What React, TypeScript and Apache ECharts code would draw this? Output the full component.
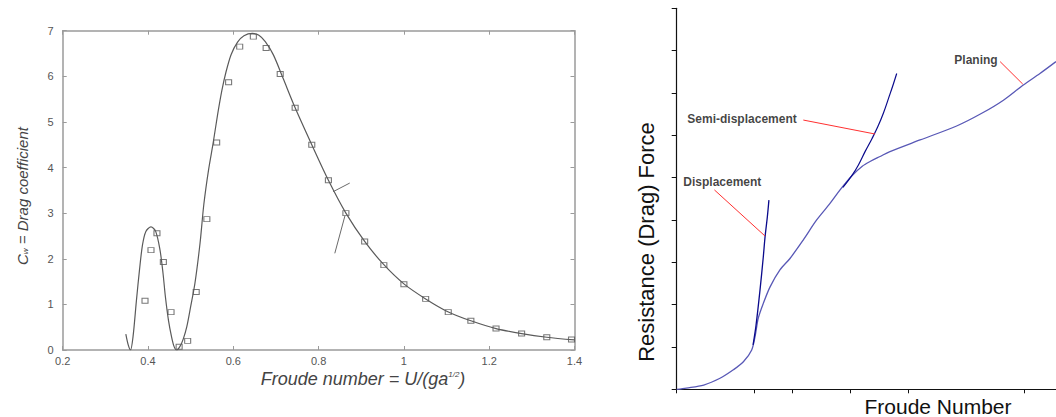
import React, { useEffect, useRef } from "react";
import * as echarts from "echarts";

// ---------- Left panel: wave drag coefficient vs Froude number ----------
const dragCurve: number[][] = [
  [0.348, 0.35], [0.354, 0.1], [0.359, 0.0], [0.365, 0.3], [0.373, 1.1], [0.38, 1.75],
  [0.387, 2.3], [0.395, 2.6], [0.407, 2.7], [0.418, 2.6], [0.428, 2.2], [0.435, 1.7],
  [0.441, 1.15], [0.448, 0.65], [0.455, 0.3], [0.461, 0.08], [0.467, 0.0], [0.475, 0.08],
  [0.483, 0.25], [0.491, 0.51], [0.5, 0.95], [0.51, 1.46], [0.522, 2.34], [0.531, 3.2],
  [0.542, 3.95], [0.553, 4.55], [0.563, 5.15], [0.573, 5.68], [0.583, 6.1], [0.595, 6.48],
  [0.61, 6.75], [0.625, 6.89], [0.645, 6.94], [0.66, 6.9], [0.675, 6.76], [0.694, 6.47],
  [0.717, 5.95], [0.745, 5.31], [0.784, 4.5], [0.823, 3.72], [0.864, 3.0], [0.908, 2.38],
  [0.953, 1.87], [1.0, 1.45], [1.051, 1.12], [1.103, 0.84], [1.157, 0.64], [1.216, 0.47],
  [1.276, 0.36], [1.335, 0.28], [1.4, 0.22],
];

const dragPoints: number[][] = [
  [0.393, 1.08], [0.407, 2.19], [0.421, 2.56], [0.436, 1.93], [0.454, 0.83], [0.473, 0.07],
  [0.493, 0.2], [0.513, 1.27], [0.538, 2.87], [0.561, 4.55], [0.589, 5.87], [0.615, 6.65],
  [0.647, 6.87], [0.677, 6.62], [0.71, 6.05], [0.745, 5.31], [0.784, 4.5], [0.823, 3.72],
  [0.864, 3.0], [0.908, 2.38], [0.953, 1.86], [1.0, 1.44], [1.051, 1.12], [1.104, 0.83],
  [1.157, 0.64], [1.216, 0.47], [1.276, 0.36], [1.335, 0.28], [1.393, 0.23],
];

const branchUpper: number[][] = [[0.834, 3.47], [0.873, 3.66]];
const branchLower: number[][] = [[0.838, 2.12], [0.862, 2.95]];

// ---------- Right panel: resistance vs Froude number (schematic) ----------
const resistanceMain: number[][] = [
  [0, 0], [0.5, 0.03], [1.4, 0.1], [2.24, 0.26], [2.93, 0.46], [3.45, 0.65], [3.88, 0.93],
  [4.05, 1.24], [4.22, 1.68], [4.48, 2.03], [4.83, 2.42], [5.34, 2.82], [5.86, 3.09],
  [6.55, 3.53], [7.24, 4.0], [7.93, 4.39], [8.45, 4.71], [9.05, 5.04], [9.6, 5.27],
  [10.0, 5.38], [10.52, 5.5], [11.0, 5.61], [12.59, 5.89], [14.48, 6.22], [15.78, 6.52],
  [16.9, 6.83], [17.93, 7.19], [18.79, 7.46], [19.62, 7.74],
];
const resistanceDisplacement: number[][] = [
  [3.95, 1.05], [4.1, 1.5], [4.31, 2.35], [4.48, 3.13], [4.57, 3.6], [4.69, 4.08], [4.77, 4.47],
];
const resistanceSemi: number[][] = [
  [8.6, 4.77], [9.05, 5.04], [9.4, 5.3], [9.75, 5.62], [10.1, 5.92], [10.4, 6.2],
  [10.69, 6.52], [11.0, 6.93], [11.2, 7.2], [11.38, 7.46],
];
const regimeNames: string[] = ["Displacement", "Semi-displacement", "Planing"];
const regimeLabelAt: number[][] = [[2.36, 4.9], [3.38, 6.38], [15.48, 7.78]];
const regimeLeaders: number[][][] = [
  [[1.95, 4.71], [4.57, 3.62]],
  [[6.55, 6.36], [10.26, 6.03]],
  [[16.73, 7.74], [17.9, 7.21]],
];
const rightXTicks: number[] = [0, 4, 6, 9, 12, 18];

const FONT = "'Liberation Sans', Arial, Helvetica, sans-serif";

export default function App() {
  const ref = useRef<HTMLDivElement>(null);

  useEffect(() => {
    if (!ref.current) return;
    const chart = echarts.init(ref.current, undefined, { renderer: "svg" });

    const axisGray = "#9a9a9a";
    const leftAxisCommon = {
      axisLine: { show: true, onZero: false, lineStyle: { color: axisGray, width: 1.5 } },
      axisTick: { show: true, inside: true, length: 4, lineStyle: { color: axisGray } },
      splitLine: { show: false },
    };

    const option: any = {
      animation: false,
      backgroundColor: "#ffffff",
      textStyle: { fontFamily: FONT },
      grid: [
        { left: 62.7, top: 30.7, width: 511.8, height: 319.3 },
        { left: 676.7, top: 8.3, width: 379.3, height: 381 },
      ],
      xAxis: [
        {
          gridIndex: 0, type: "value", position: "bottom", min: 0.2, max: 1.4, interval: 0.2,
          ...leftAxisCommon,
          axisLabel: { color: "#555", fontSize: 11, margin: 5, fontFamily: FONT },
        },
        {
          gridIndex: 0, type: "value", position: "top", min: 0.2, max: 1.4, interval: 0.2,
          ...leftAxisCommon,
          axisLabel: { show: false },
        },
        {
          gridIndex: 1, type: "value", position: "bottom", min: 0, max: 19.62,
          axisLine: { show: true, onZero: false, lineStyle: { color: "#111", width: 1.2 } },
          axisTick: { show: true, inside: false, length: 4, customValues: rightXTicks, lineStyle: { color: "#111" } },
          axisLabel: { show: false, customValues: rightXTicks },
          splitLine: { show: false },
        },
      ],
      yAxis: [
        {
          gridIndex: 0, type: "value", position: "left", min: 0, max: 7, interval: 1,
          ...leftAxisCommon,
          axisLabel: { color: "#555", fontSize: 11, margin: 9, fontFamily: FONT },
        },
        {
          gridIndex: 0, type: "value", position: "right", min: 0, max: 7, interval: 1,
          ...leftAxisCommon,
          axisLabel: { show: false },
        },
        {
          gridIndex: 1, type: "value", position: "left", min: 0, max: 9, interval: 1,
          axisLine: { show: true, onZero: false, lineStyle: { color: "#111", width: 1.2 } },
          axisTick: { show: true, inside: false, length: 5, lineStyle: { color: "#111" } },
          axisLabel: { show: false },
          splitLine: { show: false },
        },
      ],
      graphic: [
        {
          type: "text", x: 22, y: 196, rotation: Math.PI / 2,
          style: {
            text: "{m|C}{s|w}{m| = Drag coefficient}",
            align: "center", verticalAlign: "middle", fill: "#444",
            rich: {
              m: { fontSize: 15, fontStyle: "italic", fontFamily: FONT, fill: "#444" },
              s: { fontSize: 8, fontStyle: "italic", fontFamily: FONT, fill: "#444", verticalAlign: "bottom" },
            },
          },
        },
        {
          type: "text", x: 363, y: 379,
          style: {
            text: "{m|Froude number = U/(ga}{s|1/2}{m|)}",
            align: "center", verticalAlign: "middle", fill: "#444",
            rich: {
              m: { fontSize: 18, fontStyle: "italic", fontFamily: FONT, fill: "#444" },
              s: { fontSize: 8, fontStyle: "italic", fontFamily: FONT, fill: "#444", verticalAlign: "top" },
            },
          },
        },
        {
          type: "text", x: 646, y: 242, rotation: Math.PI / 2,
          style: {
            text: "Resistance (Drag) Force", align: "center", verticalAlign: "middle",
            fontSize: 22, fontFamily: FONT, fill: "#111",
          },
        },
        {
          type: "text", x: 938, y: 406,
          style: {
            text: "Froude Number", align: "center", verticalAlign: "middle",
            fontSize: 21, fontFamily: FONT, fill: "#111",
          },
        },
      ],
      series: [
        {
          type: "line", xAxisIndex: 0, yAxisIndex: 0, data: dragCurve, smooth: 0.3,
          showSymbol: false, lineStyle: { color: "#5a5a5a", width: 1.2 },
        },
        {
          type: "line", xAxisIndex: 0, yAxisIndex: 0, data: branchUpper,
          showSymbol: false, lineStyle: { color: "#6a6a6a", width: 1 },
        },
        {
          type: "line", xAxisIndex: 0, yAxisIndex: 0, data: branchLower,
          showSymbol: false, lineStyle: { color: "#6a6a6a", width: 1 },
        },
        {
          type: "scatter", xAxisIndex: 0, yAxisIndex: 0, data: dragPoints,
          symbol: "rect", symbolSize: [6, 5],
          itemStyle: { color: "rgba(255,255,255,0)", borderColor: "#555", borderWidth: 1 },
        },
        {
          type: "line", xAxisIndex: 2, yAxisIndex: 2, data: resistanceMain, smooth: 0.3,
          showSymbol: false, lineStyle: { color: "#5858b6", width: 1.3 },
        },
        {
          type: "line", xAxisIndex: 2, yAxisIndex: 2, data: resistanceDisplacement, smooth: 0.3,
          showSymbol: false, lineStyle: { color: "#0a0a8c", width: 1.3 },
        },
        {
          type: "line", xAxisIndex: 2, yAxisIndex: 2, data: resistanceSemi, smooth: 0.4,
          showSymbol: false, lineStyle: { color: "#0a0a8c", width: 1.2 },
        },
        ...regimeLeaders.map((seg) => ({
          type: "line", xAxisIndex: 2, yAxisIndex: 2, data: seg,
          showSymbol: false, lineStyle: { color: "#ff3030", width: 1 },
        })),
        {
          type: "scatter", xAxisIndex: 2, yAxisIndex: 2,
          data: regimeNames.map((n, i) => ({ name: n, value: regimeLabelAt[i] })),
          symbolSize: 1, itemStyle: { color: "rgba(0,0,0,0)" },
          label: {
            show: true, position: "inside", formatter: "{b}", color: "#111",
            fontSize: 12, fontWeight: "bold", fontFamily: FONT,
          },
        },
      ],
    };

    chart.setOption(option);
    return () => chart.dispose();
  }, []);

  return (
    <div
      ref={ref}
      style={{ position: "fixed", left: 0, top: 0, width: 1056, height: 417, background: "#fff" }}
    />
  );
}
